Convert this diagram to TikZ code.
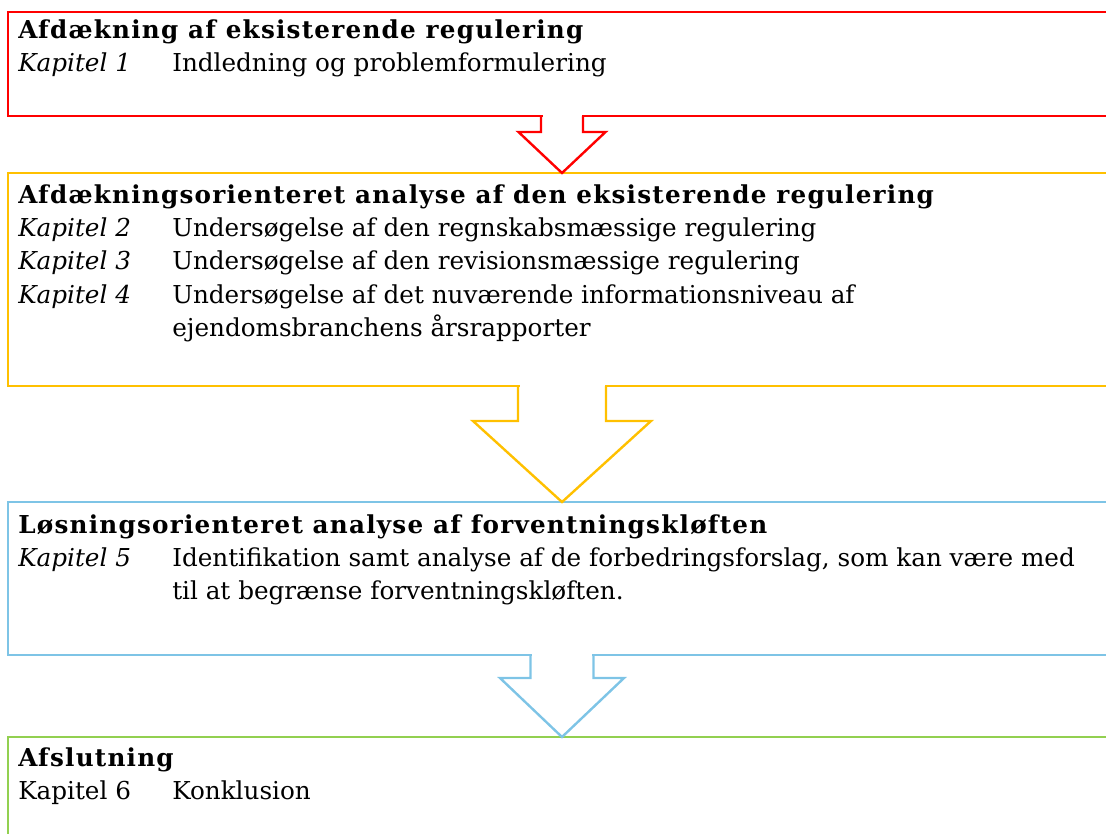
\documentclass[tikz,border=0pt]{standalone}
\usepackage{fontspec}
\setmainfont{DejaVu Serif}
\usetikzlibrary{calc}
\definecolor{afdred}{RGB}{255,0,0}
\definecolor{afdyellow}{RGB}{255,192,0}
\definecolor{losblue}{RGB}{126,196,230}
\definecolor{slutgreen}{RGB}{146,208,80}
\tikzset{
  secbox/.style={draw=#1, line width=1.8pt, inner sep=0pt, outer sep=0pt,
    anchor=north west, minimum width=1108*0.75pt},
  sectext/.style={anchor=base west, inner sep=0pt,
    font=\fontsize{18.5}{25}\selectfont},
  arrowline/.style={draw=#1, line width=1.8pt, line join=miter},
}
\newcommand{\kap}[1]{\textit{Kapitel #1}}
\newcommand{\sechead}[1]{\multicolumn{2}{@{}l@{}}{\bfseries\addfontfeature{LetterSpace=5}#1}}
\begin{document}
\begin{tikzpicture}[x=0.75pt, y=-0.75pt]
  \useasboundingbox (0,0) rectangle (1106,833);
  \clip (0,0) rectangle (1106,833);
  % boxes
  \node[secbox=afdred, minimum height=104*0.75pt] (afd) at (8,12) {};
  \node[secbox=afdyellow, minimum height=213*0.75pt] (analyse) at (8,173) {};
  \node[secbox=losblue, minimum height=153*0.75pt] (losning) at (8,502) {};
  \node[secbox=slutgreen, minimum height=130*0.75pt] (slut) at (8,737) {};
  % texts
  \node[sectext] (afdtxt) at (18,38) {\begin{tabular}[t]{@{}p{115.5pt}@{}l@{}}
    \sechead{Afdækning af eksisterende regulering}\\
    \kap{1} & Indledning og problemformulering
  \end{tabular}};
  \node[sectext] (analysetxt) at (18,203) {\begin{tabular}[t]{@{}p{115.5pt}@{}l@{}}
    \sechead{Afdækningsorienteret analyse af den eksisterende regulering}\\
    \kap{2} & Undersøgelse af den regnskabsmæssige regulering\\
    \kap{3} & Undersøgelse af den revisionsmæssige regulering\\
    \kap{4} & Undersøgelse af det nuværende informationsniveau af\\
            & ejendomsbranchens årsrapporter
  \end{tabular}};
  \node[sectext] (losningtxt) at (18,533) {\begin{tabular}[t]{@{}p{115.5pt}@{}l@{}}
    \sechead{Løsningsorienteret analyse af forventningskløften}\\
    \kap{5} & Identifikation samt analyse af de forbedringsforslag, som kan være med\\
            & til at begrænse forventningskløften.
  \end{tabular}};
  \node[sectext] (sluttxt) at (18,766) {\begin{tabular}[t]{@{}p{115.5pt}@{}l@{}}
    \sechead{Afslutning}\\
    Kapitel 6 & Konklusion
  \end{tabular}};
  % block arrows
  \fill[white] ($(afd.south)+(-19.5,-2.5)$) rectangle ($(afd.south)+(19.5,2.5)$);
  \draw[arrowline=afdred] ($(afd.south)+(-21,0)$) |- ($(afd.south)+(-43.5,16)$)
    -- (analyse.north) -- ($(afd.south)+(43.5,16)$) -| ($(afd.south)+(21,0)$);
  \fill[white] ($(analyse.south)+(-42.5,-2.5)$) rectangle ($(analyse.south)+(42.5,2.5)$);
  \draw[arrowline=afdyellow] ($(analyse.south)+(-44,0)$) |- ($(analyse.south)+(-89,35)$)
    -- (losning.north) -- ($(analyse.south)+(89,35)$) -| ($(analyse.south)+(44,0)$);
  \fill[white] ($(losning.south)+(-30,-2.5)$) rectangle ($(losning.south)+(30,2.5)$);
  \draw[arrowline=losblue] ($(losning.south)+(-31.5,0)$) |- ($(losning.south)+(-62,23)$)
    -- (slut.north) -- ($(losning.south)+(62,23)$) -| ($(losning.south)+(31.5,0)$);
\end{tikzpicture}
\end{document}
